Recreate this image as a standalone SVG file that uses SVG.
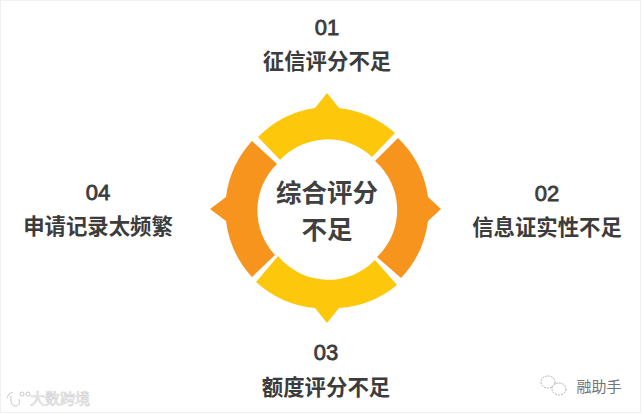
<svg xmlns="http://www.w3.org/2000/svg" width="642" height="414" viewBox="0 0 642 414">
<style>
text{font-family:"Noto Sans CJK SC","Liberation Sans",sans-serif;fill:#3c3c3c;text-anchor:middle}
.n{font-family:"Liberation Sans","Noto Sans CJK SC",sans-serif;font-size:22px;font-weight:400;stroke:#3c3c3c;stroke-width:.8}
.l{font-size:21.4px;font-weight:700}
.c{font-size:25.5px;font-weight:700;fill:#404040}
.y{fill:#fdc70c}.o{fill:#f7941e}
</style>
<rect width="642" height="414" fill="#fff"/>
<rect x="0.5" y="0.5" width="640" height="412" fill="none" stroke="#f0f0f0"/>
<g id="node-01"><text class="n" x="327" y="35">01</text><text class="l" x="327" y="69">征信评分不足</text></g>
<g id="node-02"><text class="n" x="547" y="201">02</text><text class="l" x="547" y="235">信息证实性不足</text></g>
<g id="node-03"><text class="n" x="326" y="360">03</text><text class="l" x="326" y="395">额度评分不足</text></g>
<g id="node-04"><text class="n" x="98" y="200">04</text><text class="l" x="98" y="234">申请记录太频繁</text></g>
<g id="node-top"><path class="y" d="M258 137A101 101 0 0 1 315 108L327 93L339 108A101 101 0 0 1 395 133L372 157A65 65 0 0 0 280 160Z"/></g>
<g id="node-right"><path class="o" d="M398 138A101 101 0 0 1 428 197L441 209L428 221A101 101 0 0 1 401 278L377 257A65 65 0 0 0 375 161Z"/></g>
<g id="node-bottom"><path class="y" d="M256 282L278 256A65 65 0 0 0 375 260L397 285A101 101 0 0 1 339 308L327 323L315 308A101 101 0 0 1 256 282Z"/></g>
<g id="node-left"><path class="o" d="M252 141L277 164A65 65 0 0 0 275 255L252 277A101 101 0 0 1 226 221L210 209L226 197A101 101 0 0 1 252 141Z"/></g>
<g id="node-center"><text class="c" x="327" y="202">综合评分</text><text class="c" x="327" y="239">不足</text></g>
<g id="watermarks" opacity="0.9">
<text x="60" y="404" style="font-size:15px;fill:#fff;stroke:#d0d0d0;stroke-width:.7">大数跨境</text>
<text x="599" y="392" style="font-size:15px;fill:#666">融助手</text>
<g fill="none" stroke="#c4c4c4"><path d="M7 398Q8 393 13 392M11 396Q10 405 15 406Q21 406 19 399"/><circle cx="22" cy="394" r="2"/><circle cx="28" cy="394" r="2"/></g>
<g fill="none" stroke="#aaa" stroke-dasharray="2 1"><ellipse cx="548" cy="382" rx="7" ry="6"/><ellipse cx="559" cy="389" rx="7" ry="6" fill="#fff"/></g>
</g>
</svg>
